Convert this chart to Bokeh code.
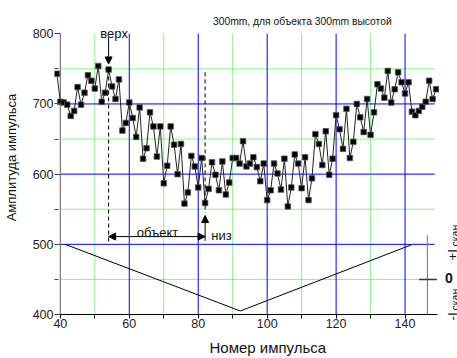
import math
from bokeh.plotting import figure
from bokeh.layouts import row
from bokeh.models import Range1d, FixedTicker, Label, Arrow, NormalHead
from bokeh.embed import file_html
from bokeh.resources import INLINE

# ---- data ----
pulse_no = list(range(39, 150))
amplitude = [
    743, 703, 702, 699, 683, 690, 724, 699, 716, 741,   # 39-48
    733, 722, 754, 703, 716, 749, 725, 707, 735, 662,   # 49-58
    673, 702, 680, 653, 695, 622, 637, 688, 668, 625,   # 59-68
    668, 587, 612, 668, 642, 600, 643, 558, 574, 626,   # 69-78
    611, 581, 623, 559, 579, 617, 599, 577, 618, 571,   # 79-88
    588, 623, 623, 615, 647, 611, 615, 624, 610, 590,   # 89-98
    615, 563, 577, 615, 601, 578, 622, 554, 581, 628,   # 99-108
    615, 580, 624, 563, 594, 657, 643, 613, 661, 599,   # 109-118
    622, 684, 664, 636, 693, 623, 646, 700, 681, 660,   # 119-128
    707, 656, 688, 728, 722, 709, 747, 702, 721, 745,   # 129-138
    731, 715, 731, 689, 684, 690, 696, 703, 733, 707,   # 139-148
    721,                                                # 149
]
scan_x = [41.4, 92.2, 141.7]
scan_y = [500, 405, 499]

x_ticks = [40, 60, 80, 100, 120, 140]
x_minor = [50, 70, 90, 110, 130]
y_ticks = [400, 500, 600, 700, 800]
y_minor = [450, 550, 650, 750]
grid_x = [60, 80, 100, 120, 140]
grid_y = [500, 600, 700]
grid_x_end = 148.6

obj_top_x = 54       # "верх"
obj_top_y = 749
obj_bottom_x = 82    # "низ"
obj_bottom_y = 559
scan_axis_x = 146.5
scan_axis_top = 513
scan_zero = 450

FONT = "Liberation Sans"
X_LO, X_HI = 38.3, 150.0
Y_LO, Y_HI = 400, 847.4
W_MAIN, W_SIDE, H = 439, 18, 358
B_LEFT, B_BOTTOM = 51, 44

p = figure(width=W_MAIN, height=H, title=None,
           x_range=Range1d(X_LO, X_HI), y_range=Range1d(Y_LO, Y_HI),
           output_backend="svg", toolbar_location=None,
           min_border_left=B_LEFT, min_border_right=0,
           min_border_top=0, min_border_bottom=B_BOTTOM)
p.outline_line_color = None
p.background_fill_color = "white"
p.xgrid.visible = False
p.ygrid.visible = False

# ---- bottom axis ----
xa = p.xaxis[0]
xa.ticker = FixedTicker(ticks=x_ticks, minor_ticks=x_minor)
xa.bounds = (x_ticks[0], 149.3)
xa.axis_line_color = "black"
xa.major_tick_line_color = "black"
xa.minor_tick_line_color = "black"
xa.major_tick_in = 0
xa.major_tick_out = 4
xa.minor_tick_in = 0
xa.minor_tick_out = 4
xa.major_label_standoff = 0
xa.major_label_text_font = FONT
xa.major_label_text_font_size = "12.5px"
xa.major_label_text_color = "#222222"
xa.axis_label = "\u00a0" * 10 + "Номер импульса"
xa.axis_label_text_font = FONT
xa.axis_label_text_font_size = "15px"
xa.axis_label_text_font_style = "normal"
xa.axis_label_text_color = "#111111"
xa.axis_label_standoff = 8

# ---- left axis ----
ya = p.yaxis[0]
ya.ticker = FixedTicker(ticks=y_ticks, minor_ticks=y_minor)
ya.axis_line_color = None
ya.major_tick_line_color = "#444444"
ya.minor_tick_line_color = "#444444"
ya.major_tick_in = 6
ya.major_tick_out = 0
ya.minor_tick_in = 4
ya.minor_tick_out = 0
ya.major_label_standoff = 1
ya.major_label_text_font = FONT
ya.major_label_text_font_size = "12.5px"
ya.major_label_text_color = "#222222"
ya.axis_label = "Амплитуда импульса"
ya.axis_label_text_font = FONT
ya.axis_label_text_font_size = "13px"
ya.axis_label_text_font_style = "normal"
ya.axis_label_text_color = "#111111"
ya.axis_label_standoff = 11

# ---- grid (drawn from tick arrays) ----
n = len(grid_x)
p.segment(x0=x_minor, y0=[y_ticks[0]] * len(x_minor), x1=x_minor, y1=[y_ticks[-1]] * len(x_minor),
          line_color="#22dd22", line_width=1, line_dash="1 1")
p.segment(x0=[x_ticks[0]] * len(y_minor), y0=y_minor, x1=[grid_x_end] * len(y_minor), y1=y_minor,
          line_color="#22dd22", line_width=1, line_dash="1 1")
p.segment(x0=grid_x, y0=[y_ticks[0]] * n, x1=grid_x, y1=[y_ticks[-1]] * n,
          line_color="#0000ff", line_width=1)
p.segment(x0=[x_ticks[0]] * len(grid_y), y0=grid_y, x1=[grid_x_end] * len(grid_y), y1=grid_y,
          line_color="#0000ff", line_width=1)

# left axis line at x=40
p.segment(x0=[x_ticks[0]], y0=[y_ticks[0]], x1=[x_ticks[0]], y1=[y_ticks[-1]],
          line_color="#777777", line_width=1.2)

# scan triangle
p.line(scan_x, scan_y, line_color="black", line_width=1)

# scan axis line and its zero tick
p.segment(x0=[scan_axis_x], y0=[Y_LO], x1=[scan_axis_x], y1=[scan_axis_top],
          line_color="#888888", line_width=1.2)
p.segment(x0=[scan_axis_x - 2.4], y0=[scan_zero], x1=[149.3], y1=[scan_zero],
          line_color="#333333", line_width=1.5)

# data
p.line(pulse_no, amplitude, line_color="#222222", line_width=1)
p.scatter(pulse_no, amplitude, marker="square", size=5.5,
          fill_color="black", line_color="#555555", line_width=0.8)

# object markers
p.segment(x0=[obj_top_x, obj_bottom_x], y0=[obj_top_y, 745],
          x1=[obj_top_x, obj_bottom_x], y1=[503, 545],
          line_color="black", line_width=1, line_dash="4 3")

head = dict(size=7, fill_color="black", line_color="black", line_width=1)
p.add_layout(Arrow(end=NormalHead(**head), x_start=obj_top_x, y_start=795,
                   x_end=obj_top_x, y_end=757, line_color="black", line_width=1))
p.add_layout(Arrow(end=NormalHead(**head), x_start=obj_bottom_x, y_start=505,
                   x_end=obj_bottom_x, y_end=541, line_color="black", line_width=1))
p.add_layout(Arrow(start=NormalHead(**head), end=NormalHead(**head),
                   x_start=obj_top_x, y_start=511, x_end=obj_bottom_x, y_end=511,
                   line_color="black", line_width=1))


def lab(fig, x, y, text, size, align="left", baseline="alphabetic", style="normal", angle=0.0):
    fig.add_layout(Label(x=x, y=y, text=text, text_font=FONT, text_font_size=size,
                         text_align=align, text_baseline=baseline, angle=angle,
                         text_color="#111111", text_font_style=style))


lab(p, 55.6, 800, "верх", "13px", align="center")
lab(p, 68.2, 517.5, "объект", "13px", align="center")
lab(p, 83.8, 512.5, "низ", "13px")
lab(p, 110.2, 818, "300mm, для объекта 300mm высотой", "10.3px", align="center")

# ---- narrow side strip with the scan-scale labels (same scales continued) ----
ppx = (W_MAIN - B_LEFT) / (X_HI - X_LO)
ppy = (H - B_BOTTOM) / (Y_HI - Y_LO)
s = figure(width=W_SIDE, height=H, title=None,
           x_range=Range1d(X_HI, X_HI + W_SIDE / ppx),
           y_range=Range1d(Y_LO, Y_HI),
           x_axis_type=None, y_axis_type=None,
           output_backend="svg", toolbar_location=None,
           min_border_left=0, min_border_right=0, min_border_top=0, min_border_bottom=0)
if "frame_align" in s.properties():
    s.frame_align = False
    p.frame_align = False
    s.y_range = Range1d(Y_LO - B_BOTTOM / ppy, Y_HI)
s.outline_line_color = None
s.xgrid.visible = False
s.ygrid.visible = False

up = math.pi / 2
lab(s, 153.68, 476.9, "+I", "13.5px", angle=up)
lab(s, 154.55, 496.9, "скан.", "10.5px", angle=up)
lab(s, 152.7, 451.3, "0", "14px", align="center", baseline="middle", style="bold")
lab(s, 153.68, 391.4, "-I", "13.5px", angle=up)
lab(s, 154.55, 405.7, "скан.", "10.5px", angle=up)

layout = row(p, s)
open("out.html", "w").write(file_html(layout, INLINE))
